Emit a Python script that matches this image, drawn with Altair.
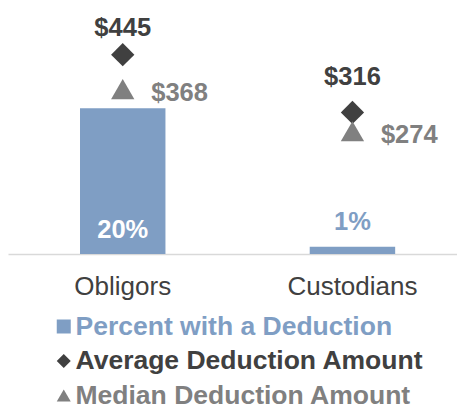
import altair as alt
import pandas as pd

categories = ["Obligors", "Custodians"]
pct_values = [0.20, 0.01]
pct_labels = ["20%", "1%"]
avg_values = [445, 316]
avg_labels = ["$445", "$316"]
med_values = [368, 274]
med_labels = ["$368", "$274"]

series_names = ["Percent with a Deduction", "Average Deduction Amount", "Median Deduction Amount"]
series_colors = ["#7F9EC4", "#404040", "#808080"]
TRIANGLE = "M0,-0.866L1,0.866L-1,0.866Z"
series_shapes = ["square", "diamond", TRIANGLE]

FONT = "Liberation Sans"
VAL_FS = 25.5
AXIS_FS = 26
LEG_FS = 26.5

bars_df = pd.DataFrame({
    "category": categories,
    "series": series_names[0],
    "pct": pct_values,
    "label": pct_labels,
    "base": [0.0, 0.0],
})

pts_df = pd.DataFrame({
    "category": categories + categories,
    "series": [series_names[1]] * 2 + [series_names[2]] * 2,
    "amount": avg_values + med_values,
    "label": avg_labels + med_labels,
})

label_color_expr = (
    "datum.label == 'Percent with a Deduction' ? '#7F9EC4' : "
    "(datum.label == 'Average Deduction Amount' ? '#404040' : '#808080')"
)

xscale = alt.Scale(paddingInner=0.628, paddingOuter=0.2913, align=0.538)
xenc = alt.X(
    "category:N",
    sort=categories,
    scale=xscale,
    axis=alt.Axis(
        title=None,
        labelAngle=0,
        labelFont=FONT,
        labelFontSize=AXIS_FS,
        labelColor="#404040",
        labelPadding=19.5,
        ticks=False,
        tickSize=0,
        grid=False,
        domainColor="#D9D9D9",
        domainWidth=1.5,
    ),
)
xplain = alt.X("category:N", sort=categories)

pct_scale = alt.Scale(domain=[0, 0.3075])
amt_scale = alt.Scale(domain=[0, 500])

legend = alt.Legend(
    orient="none",
    legendX=42.5,
    legendY=283.25,
    direction="vertical",
    title=None,
    padding=0,
    labelFont=FONT,
    labelFontSize=LEG_FS,
    labelFontWeight="bold",
    labelColor=alt.ExprRef(label_color_expr),
    labelLimit=500,
    labelOffset=alt.ExprRef("-1.5"),
    rowPadding=7.5,
    symbolSize=196,
    symbolStrokeWidth=0,
    symbolOpacity=1,
)

color_enc = alt.Color(
    "series:N",
    scale=alt.Scale(domain=series_names, range=series_colors),
    legend=legend,
)
shape_enc = alt.Shape(
    "series:N",
    scale=alt.Scale(domain=series_names, range=series_shapes),
    legend=legend,
)

bars = alt.Chart(bars_df).mark_bar().encode(
    x=xenc,
    y=alt.Y("pct:Q", scale=pct_scale, axis=None),
    color=color_enc,
)

pct_in = alt.Chart(bars_df).transform_filter(
    alt.datum.category == "Obligors"
).mark_text(font=FONT, fontSize=VAL_FS, fontWeight="bold", color="white",
            baseline="alphabetic", dy=-16).encode(
    x=xplain,
    y=alt.Y("base:Q", scale=pct_scale, axis=None),
    text="label:N",
)

pct_out = alt.Chart(bars_df).transform_filter(
    alt.datum.category == "Custodians"
).mark_text(font=FONT, fontSize=VAL_FS, fontWeight="bold", color="#7F9EC4",
            baseline="alphabetic", dy=-17).encode(
    x=xplain,
    y=alt.Y("pct:Q", scale=pct_scale, axis=None),
    text="label:N",
)

points = alt.Chart(pts_df).mark_point(filled=True, size=543, opacity=1, strokeWidth=0).encode(
    x=xplain,
    y=alt.Y("amount:Q", scale=amt_scale, axis=None),
    color=color_enc,
    shape=shape_enc,
)

avg_lab1 = alt.Chart(pts_df).transform_filter(
    (alt.datum.series == series_names[1]) & (alt.datum.category == "Obligors")
).mark_text(font=FONT, fontSize=VAL_FS, fontWeight="bold", color="#404040",
            baseline="alphabetic", dy=-19).encode(
    x=xplain,
    y=alt.Y("amount:Q", scale=amt_scale, axis=None),
    text="label:N",
)

avg_lab2 = alt.Chart(pts_df).transform_filter(
    (alt.datum.series == series_names[1]) & (alt.datum.category == "Custodians")
).mark_text(font=FONT, fontSize=VAL_FS, fontWeight="bold", color="#404040",
            baseline="alphabetic", dy=-27.5).encode(
    x=xplain,
    y=alt.Y("amount:Q", scale=amt_scale, axis=None),
    text="label:N",
)

med_lab = alt.Chart(pts_df).transform_filter(
    alt.datum.series == series_names[2]
).mark_text(font=FONT, fontSize=VAL_FS, fontWeight="bold", color="#808080",
            align="left", baseline="alphabetic", dx=28.5, dy=12).encode(
    x=xplain,
    y=alt.Y("amount:Q", scale=amt_scale, axis=None),
    text="label:N",
)

chart = alt.layer(
    bars, pct_in, pct_out, points, avg_lab1, avg_lab2, med_lab
).resolve_scale(
    y="independent"
).properties(
    width=449,
    height=224,
    autosize=alt.AutoSizeParams(type="none"),
    padding={"top": 22, "left": 0, "right": 0, "bottom": 155},
).configure(
    font=FONT,
).configure_view(
    stroke=None,
)

chart.save("out.html", embed_options={"renderer": "svg", "actions": False})
